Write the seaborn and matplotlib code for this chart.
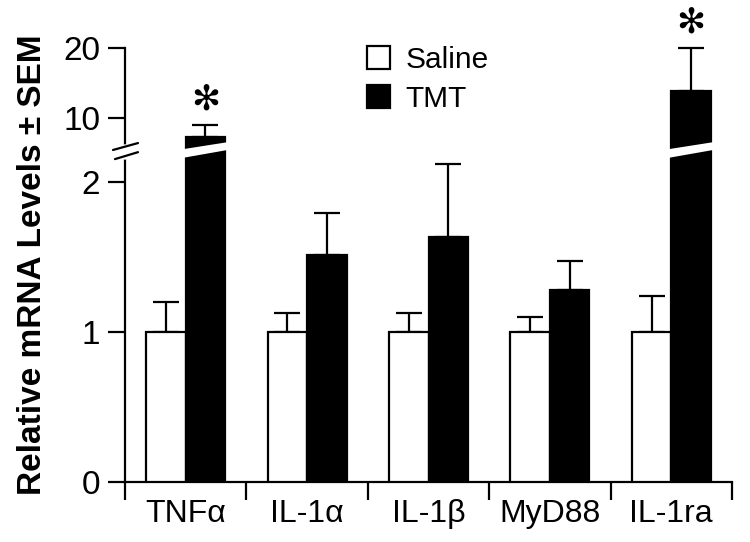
import numpy as np
import pandas as pd
import matplotlib
matplotlib.use("Agg")
import matplotlib.pyplot as plt
import seaborn as sns
from matplotlib.patches import Polygon
from matplotlib import transforms

# donnees
genes = ["TNFα", "IL-1α", "IL-1β", "MyD88", "IL-1ra"]
groups = ["Saline", "TMT"]
saline = [1.0, 1.0, 1.0, 1.0, 1.0]
saline_sem = [0.20, 0.13, 0.13, 0.10, 0.24]
tmt = [7.3, 1.51, 1.63, 1.28, 13.9]
tmt_sem = [1.7, 0.28, 0.49, 0.19, 6.1]
signif = [True, False, False, False, True]
yticks = [0, 1, 2, 10, 20]

# axe casse : 0-2.15 en bas, 6-20 en haut
brk_lo, brk_hi = 2.15, 6.0
v_pts = np.array([-10, 0, brk_lo, brk_hi, 40])
f_pts = np.array([-1500, 0, brk_lo * 150, brk_lo * 150 + 13.5,
                  brk_lo * 150 + 13.5 + (40 - brk_hi) * 7])

def fwd(v):
    return np.interp(v, v_pts, f_pts)

def inv(f):
    return np.interp(f, f_pts, v_pts)

sns.set_style("ticks")
plt.rcParams["font.family"] = ["Liberation Sans", "DejaVu Sans"]
for k in ["text.color", "axes.labelcolor", "xtick.color", "ytick.color",
          "axes.edgecolor", "xtick.labelcolor", "ytick.labelcolor"]:
    plt.rcParams[k] = "black"

df = pd.DataFrame({
    "gene": genes * 2,
    "group": ["Saline"] * 5 + ["TMT"] * 5,
    "value": saline + tmt,
})

fig = plt.figure(figsize=(7.5, 5.42), dpi=100)
ax = fig.add_axes([125 / 750, 60 / 542, 607 / 750, 434 / 542])

sns.barplot(data=df, x="gene", y="value", hue="group", hue_order=groups,
            palette={"Saline": "white", "TMT": "black"}, edgecolor="black",
            linewidth=1.6, width=0.65, errorbar=None, ax=ax, zorder=3)

ax.set_yscale("function", functions=(fwd, inv))

# barres d'erreur (SEM, vers le haut seulement)
for cont, vals, sems in zip(ax.containers, [saline, tmt], [saline_sem, tmt_sem]):
    xs = [b.get_x() + b.get_width() / 2 for b in cont]
    ax.errorbar(xs, vals, yerr=[np.zeros(len(vals)), sems], fmt="none",
                ecolor="black", elinewidth=1.6, capsize=9.5, capthick=1.6,
                zorder=2, clip_on=False)

# asterisques
xs_tmt = [b.get_x() + b.get_width() / 2 for b in ax.containers[1]]
for x, v, s, sig in zip(xs_tmt, tmt, tmt_sem, signif):
    if sig:
        ax.annotate("✻", xy=(x, v + s), xytext=(0, 18), textcoords="offset points",
                    ha="center", va="center", fontsize=25,
                    fontfamily="DejaVu Sans", annotation_clip=False)

# coupure blanche dans les barres TMT qui depassent
blend = transforms.blended_transform_factory(ax.transData, ax.transAxes)
for b, v in zip(ax.containers[1], tmt):
    if v > brk_lo:
        xl = b.get_x() - 0.02
        xr = b.get_x() + b.get_width() + 0.02
        poly = Polygon([(xl, 0.747), (xr, 0.765), (xr, 0.783), (xl, 0.767)],
                       closed=True, facecolor="white", edgecolor="none",
                       transform=blend, zorder=5)
        ax.add_patch(poly)

ax.set_xlim(-0.5, 4.5)
ax.set_ylim(0, 20)
ax.set_yticks(yticks)
ax.set_yticklabels([str(t) for t in yticks])

# ticks entre les categories, libelles au centre
ax.set_xticks(np.arange(-0.5, 5, 1))
ax.set_xticklabels([])
ax.set_xticks(range(len(genes)), genes, minor=True)
ax.tick_params(axis="x", which="major", length=13, width=1.6, direction="out")
ax.tick_params(axis="x", which="minor", length=0, pad=12, labelsize=23)
ax.tick_params(axis="y", length=12, width=1.6, pad=6, labelsize=24)
ax.set_xlabel("")

sns.despine(ax=ax)
for sp in ["left", "bottom"]:
    ax.spines[sp].set_linewidth(1.6)

# coupure de l'axe y
ax.plot([0, 0], [0.749, 0.772], color="white", lw=4, transform=ax.transAxes,
        clip_on=False, zorder=6)
ax.plot([-0.0198, 0.0214], [0.765, 0.781], color="black", lw=1.6,
        transform=ax.transAxes, clip_on=False, zorder=7)
ax.plot([-0.0165, 0.0214], [0.744, 0.760], color="black", lw=1.6,
        transform=ax.transAxes, clip_on=False, zorder=7)

ax.set_ylabel("Relative mRNA Levels ± SEM", fontsize=24, fontweight="bold")
ax.yaxis.set_label_coords(-0.127, 0.5)

ax.legend(title=None, frameon=False, loc="upper left",
          bbox_to_anchor=(0.398, 1.005), borderaxespad=0, borderpad=0,
          handlelength=0.8, handleheight=0.8, handletextpad=0.5,
          labelspacing=0.37, fontsize=21.5)

fig.savefig("out.png", dpi=100)
